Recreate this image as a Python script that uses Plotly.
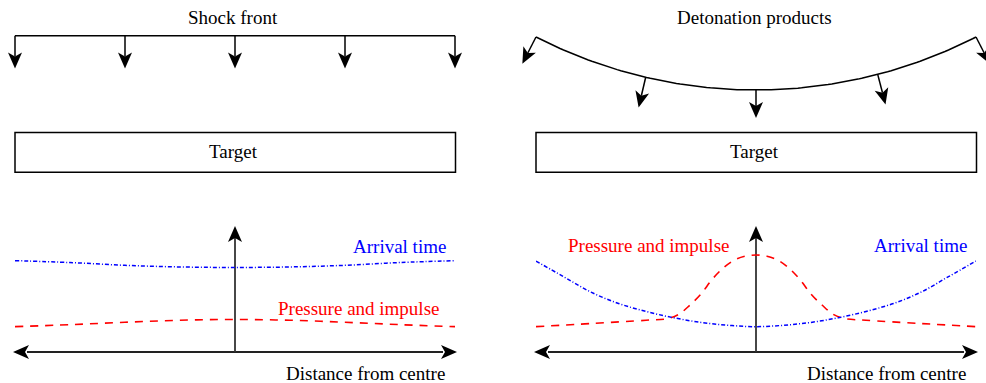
import math
import plotly.graph_objects as go

W, H = 986, 383
FONT = "Liberation Serif, Times New Roman, serif"
FS = 19

# Normalised distance from centre at which the curves are sampled
dist_flat = [-1.0, -0.75, -0.5, -0.25, 0.0, 0.25, 0.5, 0.75, 1.0]
# Planar shock front: nearly uniform arrival time and loading
arrival_flat = [0.725, 0.710, 0.688, 0.675, 0.671, 0.675, 0.688, 0.710, 0.725]
pressure_flat = [0.201, 0.217, 0.236, 0.252, 0.258, 0.252, 0.236, 0.217, 0.201]

# Curved detonation-product front
dist_arr = [-1.0, -0.875, -0.75, -0.625, -0.5, -0.375, -0.25, -0.125, 0.0,
            0.125, 0.25, 0.375, 0.5, 0.625, 0.75, 0.875, 1.0]
arrival_curved = [0.722, 0.598, 0.475, 0.385, 0.322, 0.272, 0.235, 0.212, 0.201,
                  0.212, 0.235, 0.272, 0.322, 0.385, 0.475, 0.598, 0.722]
dist_press = [-1.0, -0.75, -0.5, -0.4, -0.35, -0.3, -0.25, -0.2, -0.15, -0.1, -0.05, 0.0,
              0.05, 0.1, 0.15, 0.2, 0.25, 0.3, 0.35, 0.4, 0.5, 0.75, 1.0]
pressure_curved = [0.201, 0.226, 0.252, 0.266, 0.300, 0.373, 0.460, 0.575, 0.665, 0.728, 0.760, 0.770,
                   0.760, 0.728, 0.665, 0.575, 0.460, 0.373, 0.300, 0.266, 0.252, 0.226, 0.201]

panel_titles = ["Shock front", "Detonation products"]
target_label = "Target"
axis_label = "Distance from centre"
arrival_label = "Arrival time"
pressure_label = "Pressure and impulse"

BLUE = "rgb(0,0,255)"
RED = "rgb(255,0,0)"

# Panel geometry (pixel units on the main overlay axis)
LEFT = [(15, 455), (536, 976)]
AX_Y, AX_TOP = 352, 226

fig = go.Figure()
shapes = []
annotations = []


def head(tip, d, L=16, hw=7, notch=4):
    tx, ty = tip
    dx, dy = d
    n = math.hypot(dx, dy)
    dx, dy = dx / n, dy / n
    px, py = -dy, dx
    bx, by = tx - L * dx, ty - L * dy
    nx, ny = tx - (L - notch) * dx, ty - (L - notch) * dy
    path = (f"M{tx},{ty} L{bx + hw * px},{by + hw * py} L{nx},{ny} "
            f"L{bx - hw * px},{by - hw * py} Z")
    shapes.append(dict(type="path", xref="x", yref="y", path=path,
                       fillcolor="black", line=dict(width=0), layer="above"))
    return nx, ny


def arrow(start, tip, color="black", width=1.5, layer="above"):
    d = (tip[0] - start[0], tip[1] - start[1])
    nx, ny = head(tip, d)
    shapes.append(dict(type="line", xref="x", yref="y", x0=start[0], y0=start[1],
                       x1=nx, y1=ny, line=dict(color=color, width=width), layer=layer))


# --- Left panel: planar shock front ---
x0, x1 = LEFT[0]
shapes.append(dict(type="line", xref="x", yref="y", x0=x0, y0=35.7, x1=x1, y1=35.7,
                   line=dict(color="black", width=1.5)))
for xa in [15, 125, 235, 345, 455]:
    arrow((xa, 35.7), (xa, 68.5))

# --- Right panel: curved front of detonation products ---
cx, chord, sag = 756, 220, 53
R = (chord ** 2 + sag ** 2) / (2 * sag)
cy = 90 - R
half = math.asin(chord / R)
ts = [(-half + 2 * half * i / 120) for i in range(121)]
fig.add_trace(go.Scatter(x=[cx + R * math.sin(t) for t in ts],
                         y=[cy + R * math.cos(t) for t in ts],
                         mode="lines", line=dict(color="black", width=1.5),
                         hoverinfo="skip", showlegend=False, xaxis="x", yaxis="y"))
for xb, ln in [(536, 30), (645.7, 31), (756, 28), (877.7, 31), (976, 30)]:
    t = math.asin((xb - cx) / R)
    px, py = cx + R * math.sin(t), cy + R * math.cos(t)
    dx, dy = math.sin(t), math.cos(t)
    arrow((px, py), (px + ln * dx, py + ln * dy))

# Titles and target boxes
for (a, b), title in zip(LEFT, panel_titles):
    mid = (a + b) / 2
    annotations.append(dict(x=mid - 2, y=17, xref="x", yref="y", text=title, showarrow=False,
                            font=dict(family=FONT, size=FS, color="black"),
                            xanchor="center", yanchor="middle"))
    shapes.append(dict(type="rect", xref="x", yref="y", x0=a, y0=132.5, x1=b + 0.5, y1=172.3,
                       line=dict(color="black", width=1.5), fillcolor="rgba(0,0,0,0)"))
    annotations.append(dict(x=mid - 1.5, y=151.5, xref="x", yref="y", text=target_label,
                            showarrow=False, font=dict(family=FONT, size=FS, color="black"),
                            xanchor="center", yanchor="middle"))
    # graph axes
    shapes.append(dict(type="line", xref="x", yref="y", x0=a + 12, y0=AX_Y, x1=b - 12, y1=AX_Y,
                       line=dict(color="#222", width=1.8), layer="below"))
    head((a - 2, AX_Y), (-1, 0))
    head((b + 2, AX_Y), (1, 0))
    shapes.append(dict(type="line", xref="x", yref="y", x0=mid, y0=AX_Y, x1=mid, y1=AX_TOP + 12,
                       line=dict(color="#333", width=1.8), layer="below"))
    head((mid, AX_TOP), (0, -1))
    annotations.append(dict(x=b - 8.5, y=373, xref="x", yref="y", text=axis_label,
                            showarrow=False, font=dict(family=FONT, size=FS, color="black"),
                            xanchor="right", yanchor="middle"))

# Curves on the two lower graphs
DASH_RED = "8px,7px"
DASH_BLUE = "4px,2px,1px,2px"
for ax, xs_a, ya, xs_p, yp in [("2", dist_flat, arrival_flat, dist_flat, pressure_flat),
                               ("3", dist_arr, arrival_curved, dist_press, pressure_curved)]:
    fig.add_trace(go.Scatter(x=xs_p, y=yp, mode="lines", line_shape="spline",
                             line=dict(color=RED, width=1.6, dash=DASH_RED),
                             hoverinfo="skip", showlegend=False,
                             xaxis="x" + ax, yaxis="y" + ax))
    fig.add_trace(go.Scatter(x=xs_a, y=ya, mode="lines", line_shape="spline",
                             line=dict(color=BLUE, width=1.5, dash=DASH_BLUE),
                             hoverinfo="skip", showlegend=False,
                             xaxis="x" + ax, yaxis="y" + ax))

# Curve labels
annotations += [
    dict(x=447.5, y=246, text=arrival_label, font=dict(color=BLUE), xanchor="right"),
    dict(x=441, y=308.5, text=pressure_label, font=dict(color=RED), xanchor="right"),
    dict(x=565.5, y=245, text=pressure_label, font=dict(color=RED), xanchor="left"),
    dict(x=969, y=245, text=arrival_label, font=dict(color=BLUE), xanchor="right"),
]
for ann in annotations[-4:]:
    ann.update(xref="x", yref="y", showarrow=False, yanchor="middle")
    ann["font"].update(family=FONT, size=FS)

y_lo = (H - AX_Y) / H
y_hi = (H - AX_TOP) / H
hidden = dict(visible=False, fixedrange=True)
fig.update_layout(
    width=W, height=H, autosize=False,
    margin=dict(l=0, r=0, t=0, b=0, pad=0),
    paper_bgcolor="white", plot_bgcolor="rgba(0,0,0,0)",
    xaxis=dict(range=[0, W], domain=[0, 1], **hidden),
    yaxis=dict(range=[H, 0], domain=[0, 1], **hidden),
    xaxis2=dict(range=[-1, 1], domain=[LEFT[0][0] / W, LEFT[0][1] / W], anchor="y2", **hidden),
    yaxis2=dict(range=[0, 1], domain=[y_lo, y_hi], anchor="x2", **hidden),
    xaxis3=dict(range=[-1, 1], domain=[LEFT[1][0] / W, LEFT[1][1] / W], anchor="y3", **hidden),
    yaxis3=dict(range=[0, 1], domain=[y_lo, y_hi], anchor="x3", **hidden),
    shapes=shapes,
    annotations=annotations,
    showlegend=False,
)

fig.write_html("out.html", config={"displayModeBar": False})
